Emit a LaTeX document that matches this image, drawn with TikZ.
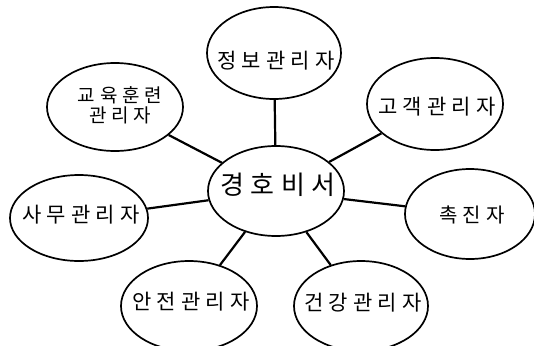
\documentclass[tikz,border=0pt]{standalone}
\usepackage{fontspec}
\newfontfamily\kr[LetterSpace=25]{Noto Sans CJK KR}
\usetikzlibrary{shapes.geometric}
\tikzset{
  bub/.style={draw=black, line width=1.7pt, ellipse, inner sep=0pt, minimum width=#1},
  bub/.default=136pt,
  lbl/.style={font=\kr\fontsize{21}{23}\selectfont, inner sep=0pt, align=center},
  link/.style={line width=2.2pt, black}
}
\begin{document}
\begin{tikzpicture}[x=1pt,y=-1pt]
\useasboundingbox (0,0) rectangle (534,345);
\clip (0,0) rectangle (534,345);
\fill[white] (0,0) rectangle (534,345);
% bubbles
\node[bub=136pt, minimum height=90pt] (c) at (276,191) {};
\node[bub=134pt, minimum height=92pt] (info) at (274,53) {};
\node[bub=136pt, minimum height=92pt] (cust) at (435,104) {};
\node[bub=136pt, minimum height=88pt] (edu) at (115,107) {};
\node[bub=138pt, minimum height=86pt] (off) at (79,218) {};
\node[bub=130pt, minimum height=90pt] (fac) at (470,214) {};
\node[bub=136pt, minimum height=90pt] (safe) at (189,306) {};
\node[bub=134pt, minimum height=90pt] (health) at (361,306) {};
% texts
\node[lbl, font=\kr\fontsize{26}{28}\selectfont] (tc) at (278,185) {경호비서};
\node[lbl] (tinfo) at (276,61) {정보관리자};
\node[lbl] (tcust) at (437,107) {고객관리자};
\node[lbl, font=\kr\fontsize{19}{20}\selectfont] (tedu) at (120,105) {교육훈련\\관리자};
\node[lbl] (toff) at (81,215) {사무관리자};
\node[lbl, font=\kr\fontsize{20}{22}\selectfont] (tfac) at (472,215) {촉진자};
\node[lbl] (tsafe) at (191,302) {안전관리자};
\node[lbl] (thealth) at (363,303) {건강관리자};
% links
\foreach \n in {info,cust,edu,off,fac,safe,health}
  \draw[link] (c) -- (\n);
\end{tikzpicture}
\end{document}
